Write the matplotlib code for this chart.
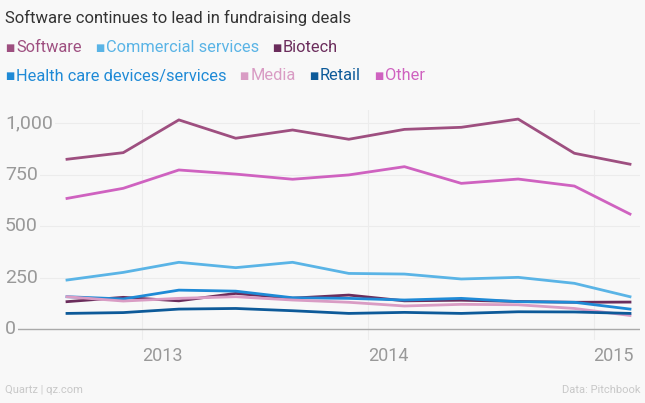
import matplotlib
matplotlib.use("Agg")
import matplotlib.pyplot as plt
import matplotlib.dates as mdates
import datetime as dt

plt.rcParams['font.family'] = ['Roboto', 'DejaVu Sans']

# quarterly deal counts
dates = ["2012-09-01", "2012-12-01", "2013-03-01", "2013-06-01", "2013-09-01", "2013-12-01",
         "2014-03-01", "2014-06-01", "2014-09-01", "2014-12-01", "2015-03-01"]
series_names = ["Software", "Commercial services", "Biotech",
                "Health care devices/services", "Media", "Retail", "Other"]
software = [824, 856, 1015, 926, 966, 921, 969, 979, 1019, 853, 800]
commercial = [238, 275, 324, 298, 324, 270, 267, 243, 251, 222, 157]
biotech = [133, 154, 137, 173, 150, 165, 137, 140, 134, 130, 131]
healthcare = [157, 146, 189, 184, 152, 149, 141, 149, 133, 130, 97]
media = [157, 136, 149, 157, 141, 130, 112, 120, 118, 100, 66]
retail = [76, 80, 97, 100, 89, 76, 81, 76, 84, 83, 76]
other = [634, 683, 772, 752, 727, 748, 788, 707, 728, 694, 558]
colors = ["#9e4f80", "#5ab4e6", "#6b2d5c", "#1f8ad6", "#d99cc4", "#0d5a99", "#cf62c0"]
yticks = [0, 250, 500, 750, 1000]
ytick_labels = ["0", "250", "500", "750", "1,000"]
xtick_years = [2013, 2014, 2015]

bg = "#f8f8f8"
fig = plt.figure(figsize=(6.45, 4.03), dpi=100, facecolor=bg)
W, H = 645, 403
ax = fig.add_axes([5 / W, 1 - 340 / H, 635 / W, 230 / H], facecolor=bg)

x = [mdates.date2num(dt.datetime.strptime(d, "%Y-%m-%d")) for d in dates]
all_series = [software, commercial, biotech, healthcare, media, retail, other]
for vals, c in zip(all_series, colors):
    ax.plot(x, vals, color=c, lw=2.0, solid_joinstyle='round', zorder=3)

# scale: first point at px 67, last at px 630
px_per_day = (630 - 67) / (x[-1] - x[0])
ax.set_xlim(x[0] - (67 - 5) / px_per_day, x[-1] + (640 - 630) / px_per_day)
ax.set_ylim(-53, 1063)

for s in ax.spines.values():
    s.set_visible(False)
ax.set_xticks([])
ax.set_yticks([])

for v, lab in zip(yticks, ytick_labels):
    if v == 0:
        ax.axhline(0, color="#aaaaaa", lw=1, zorder=2)
    else:
        ax.axhline(v, color="#ececec", lw=0.8, zorder=1)
    ax.text(0, v, lab, transform=ax.get_yaxis_transform(), ha='left', va='center',
            fontsize=14, color="#999999", zorder=4,
            bbox=dict(facecolor=bg, edgecolor='none', pad=1.5))

for yr in xtick_years:
    xv = mdates.date2num(dt.datetime(yr, 1, 1))
    ax.axvline(xv, color="#ececec", lw=0.8, zorder=1)
    ax.text(xv, -0.03, str(yr), transform=ax.get_xaxis_transform(), ha='left', va='top',
            fontsize=13, color="#999999")

fig.text(5 / W, 1 - 18 / H, "Software continues to lead in fundraising deals",
         fontsize=12, color="#333333", ha='left', va='center')

# legend rows
rows = [[0, 1, 2], [3, 4, 5, 6]]
row_y = [48, 76]
fig.canvas.draw()
renderer = fig.canvas.get_renderer()
for row, yy in zip(rows, row_y):
    xpos = 5
    for i in row:
        fig.text(xpos / W, 1 - yy / H, "■", fontsize=7, color=colors[i],
                 ha='left', va='center', family='DejaVu Sans')
        xpos += 11
        t = fig.text(xpos / W, 1 - yy / H, series_names[i], fontsize=11.8,
                     color=colors[i], ha='left', va='center')
        bb = t.get_window_extent(renderer)
        xpos += bb.width + 13

fig.text(5 / W, 1 - 390 / H, "Quartz | qz.com", fontsize=8, color="#c8c8c8",
         ha='left', va='center')
fig.text(640 / W, 1 - 390 / H, "Data: Pitchbook", fontsize=8, color="#c8c8c8",
         ha='right', va='center')

fig.savefig("out.png", dpi=100, facecolor=bg)
